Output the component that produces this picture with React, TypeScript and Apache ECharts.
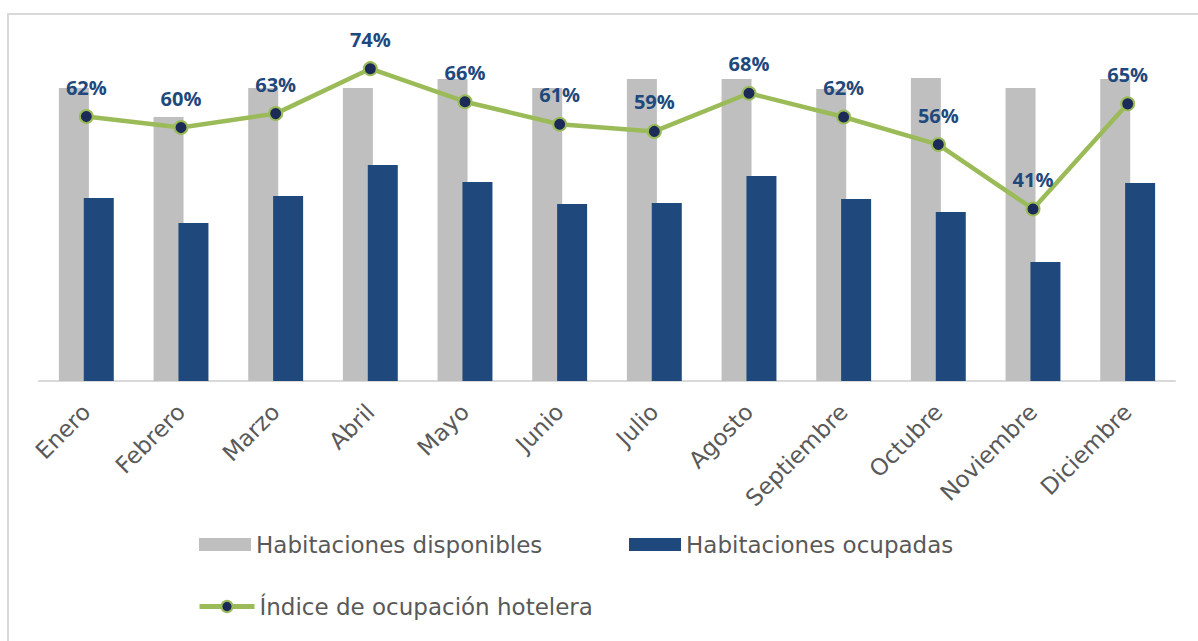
import React, { useEffect, useRef } from "react";
import * as echarts from "echarts";

const months = ["Enero", "Febrero", "Marzo", "Abril", "Mayo", "Junio", "Julio", "Agosto", "Septiembre", "Octubre", "Noviembre", "Diciembre"];
const disponibles = [29300, 26400, 29300, 29300, 30200, 29300, 30200, 30200, 29200, 30300, 29300, 30200];
const ocupadas = [18300, 15800, 18500, 21600, 19900, 17700, 17800, 20500, 18200, 16900, 11900, 19800];
const indice = [62.4, 59.8, 63.1, 73.7, 65.9, 60.6, 58.9, 67.9, 62.3, 55.8, 40.6, 65.4];

const FONT = "'DejaVu Sans', sans-serif";
const LFONT = "'Open Sans', sans-serif";

export default function App() {
  const ref = useRef<HTMLDivElement>(null);
  useEffect(() => {
    if (!ref.current) return;
    const chart = echarts.init(ref.current, undefined, { renderer: "svg" });
    const txt = { color: "#595959", fontSize: 23, fontFamily: FONT };
    chart.setOption({
      animation: false,
      backgroundColor: "#ffffff",
      graphic: [
        {
          type: "rect",
          z: -10,
          shape: { x: 8, y: 14, width: 1300, height: 800 },
          style: { fill: "none", stroke: "#d9d9d9", lineWidth: 2 },
        },
      ],
      grid: { left: 39, right: 23, top: 42, bottom: 260, containLabel: false },
      legend: [
        {
          left: 194, top: 528, padding: 5, data: ["Habitaciones disponibles"], itemWidth: 52, itemHeight: 13,
          icon: "rect", textStyle: txt,
        },
        {
          left: 624, top: 528, padding: 5, data: ["Habitaciones ocupadas"], itemWidth: 52, itemHeight: 13,
          icon: "rect", textStyle: txt,
        },
        {
          left: 192, top: 590, padding: 5, data: ["Índice de ocupación hotelera"], itemWidth: 55, itemHeight: 14,
          lineStyle: { width: 5 },
          textStyle: txt,
        },
      ],
      xAxis: {
        type: "category",
        data: months,
        axisLine: { lineStyle: { color: "#d9d9d9", width: 2 } },
        axisTick: { show: false },
        axisLabel: { rotate: 45, color: "#595959", fontSize: 23, fontFamily: FONT, margin: 27, interval: 0 },
      },
      yAxis: [
        { type: "value", min: 0, max: 33900, show: false, splitLine: { show: false } },
        { type: "value", min: 0, max: 80, show: false, splitLine: { show: false } },
      ],
      series: [
        {
          name: "Habitaciones disponibles", type: "bar", data: disponibles, barWidth: 30, barGap: "-17%",
          itemStyle: { color: "#bfbfbf" },
        },
        {
          name: "Habitaciones ocupadas", type: "bar", data: ocupadas, barWidth: 30,
          itemStyle: { color: "#1f497d" },
        },
        {
          name: "Índice de ocupación hotelera", type: "line", yAxisIndex: 1, data: indice,
          symbol: "circle", symbolSize: 13,
          lineStyle: { color: "#9bbb59", width: 4.5 },
          itemStyle: { color: "#1b2a57", borderColor: "#9bbb59", borderWidth: 2 },
          label: {
            show: true, position: "top", distance: 12, color: "#1f497d", fontWeight: "bold",
            fontSize: 20, fontFamily: LFONT,
            formatter: (p: any) => Math.round(p.value) + "%",
          },
          z: 5,
        },
      ],
    });
    return () => chart.dispose();
  }, []);
  return <div ref={ref} style={{ position: "absolute", left: 0, top: 0, width: 1198, height: 641 }} />;
}
